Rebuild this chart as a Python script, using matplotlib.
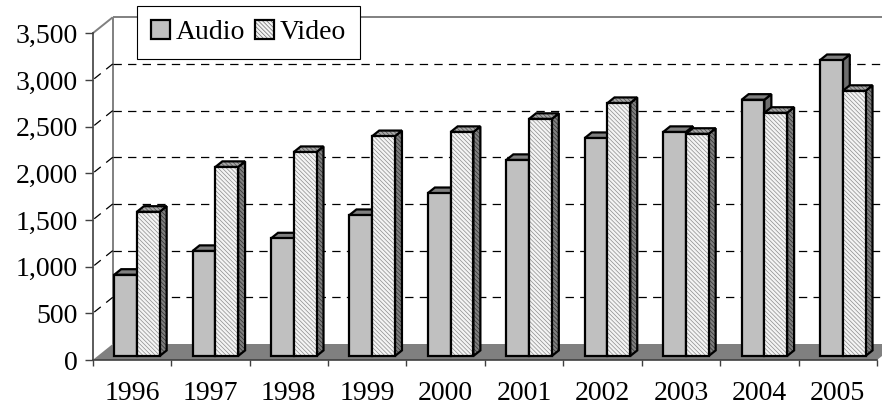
import matplotlib
matplotlib.use('Agg')
import matplotlib.pyplot as plt
from matplotlib.patches import Polygon, Patch

years = ['1996', '1997', '1998', '1999', '2000', '2001', '2002', '2003', '2004', '2005']
audio = [870, 1125, 1260, 1510, 1745, 2100, 2335, 2400, 2745, 3170]
video = [1545, 2025, 2185, 2355, 2400, 2540, 2710, 2380, 2605, 2840]
y_ticks = [0, 500, 1000, 1500, 2000, 2500, 3000, 3500]

plt.rcParams['font.family'] = 'Liberation Serif'
plt.rcParams['hatch.linewidth'] = 0.5
plt.rcParams['lines.scale_dashes'] = False

W, H = 882, 405
fig = plt.figure(figsize=(W / 100, H / 100), dpi=100)
# front plane of the 3-D box
ax_l, ax_r, ax_t, ax_b = 92.7, 877.0, 33.3, 360.0
ax = fig.add_axes([ax_l / W, (H - ax_b) / H, (ax_r - ax_l) / W, (ax_b - ax_t) / H])
ymax = y_ticks[-1]
ax.set_xlim(0, len(years))
ax.set_ylim(0, ymax)
ax.patch.set_visible(False)

# box depth expressed in data units (20 px right, 16 px up)
DX = 20 / ((ax_r - ax_l) / len(years))
DY = 16 / ((ax_b - ax_t) / ymax)


def pt(x, y, d):
    return (x + d * DX, y + d * DY)


def face(pts, **kw):
    ax.add_patch(Polygon(pts, closed=True, clip_on=False, **kw))


n = len(years)
wall = '#808080'

# floor
face([pt(0, 0, 0), pt(n, 0, 0), pt(n, 0, 1), pt(0, 0, 1)],
     facecolor='#808080', edgecolor='none', zorder=1)

# wall edges
for xs, ys in [
    ([pt(0, 0, 1)[0], pt(0, ymax, 1)[0]], [pt(0, 0, 1)[1], pt(0, ymax, 1)[1]]),
    ([pt(0, ymax, 0)[0], pt(0, ymax, 1)[0]], [ymax, pt(0, ymax, 1)[1]]),
    ([pt(0, ymax, 1)[0], pt(n + 1, ymax, 1)[0]], [pt(0, ymax, 1)[1]] * 2),
]:
    ax.plot(xs, ys, color=wall, lw=1.4, clip_on=False, zorder=1.5,
            solid_capstyle='butt')

# dashed gridlines on back and side walls
for v in y_ticks[1:-1]:
    b0 = pt(0, v, 1)
    ax.plot([b0[0], pt(n + 1, v, 1)[0]], [b0[1], b0[1]], color='black', lw=0.9,
            dashes=(6, 4.5), clip_on=False, zorder=1.6)
    ax.plot([b0[0], 0], [b0[1], v], color='black', lw=0.9,
            dashes=(6, 5), clip_on=False, zorder=1.6)

d0, d1 = 0.25, 0.6
bw = 0.29
hatch = '\\' * 8
styles = [
    # front, top, side : (facecolor, hatch colour or None)
    dict(front=('#C0C0C0', None), top=('#808080', None), side=('#6E6E6E', None)),
    dict(front=('#F4F4F4', '#8C8C8C'), top=('#A8A8A8', '#505050'), side=('#808080', '#303030')),
]

z = 3.0
for i in range(n):
    for s, vals in enumerate([audio, video]):
        v = vals[i]
        x0 = i + 0.21 + bw * s
        x1 = x0 + bw
        faces = {
            'side': [pt(x1, 0, d0), pt(x1, 0, d1), pt(x1, v, d1), pt(x1, v, d0)],
            'top': [pt(x0, v, d0), pt(x1, v, d0), pt(x1, v, d1), pt(x0, v, d1)],
            'front': [pt(x0, 0, d0), pt(x1, 0, d0), pt(x1, v, d0), pt(x0, v, d0)],
        }
        for key in ['side', 'top', 'front']:
            fc, hc = styles[s][key]
            if hc is None:
                face(faces[key], facecolor=fc, edgecolor='none', lw=0, zorder=z)
            else:
                face(faces[key], facecolor=fc, edgecolor=hc, hatch=hatch, lw=0, zorder=z)
            face(faces[key], fill=False, edgecolor='black', lw=1.6,
                 joinstyle='miter', zorder=z + 0.001)
            z += 0.002

# axes, ticks, labels
axis_col = '#404040'
for side in ['top', 'right']:
    ax.spines[side].set_visible(False)
for side in ['left', 'bottom']:
    ax.spines[side].set_color(axis_col)
    ax.spines[side].set_linewidth(1.2)
ax.spines['left'].set_zorder(2.5)
ax.spines['bottom'].set_zorder(2.5)

ax.set_yticks(y_ticks, labels=[f'{v:,}' for v in y_ticks])
ax.tick_params(axis='y', length=5.5, width=1, color=axis_col, pad=5, labelsize=20)
ax.set_xticks(range(n + 1), labels=[''] * (n + 1))
ax.tick_params(axis='x', which='major', length=4.5, width=1, color=axis_col)
ax.set_xticks([i + 0.5 for i in range(n)], labels=years, minor=True)
ax.tick_params(axis='x', which='minor', length=0, pad=15, labelsize=20)

# legend
h_audio = Patch(facecolor='#C0C0C0', edgecolor='black', lw=1.6)
h_video = (Patch(facecolor='#F4F4F4', edgecolor='#6A6A6A', hatch=hatch, lw=0),
           Patch(fill=False, edgecolor='black', lw=1.6))
leg = fig.legend([h_audio, h_video], ['Audio', 'Video'], ncol=2,
                 loc='upper left', bbox_to_anchor=(137 / W, 1 - 6 / H),
                 borderaxespad=0, fancybox=False, framealpha=1, edgecolor='black',
                 fontsize=20, handlelength=0.7, handleheight=0.7,
                 handletextpad=0.2, columnspacing=0.35, borderpad=0.5)
leg.get_frame().set_linewidth(0.8)

fig.savefig('out.png', dpi=100)
